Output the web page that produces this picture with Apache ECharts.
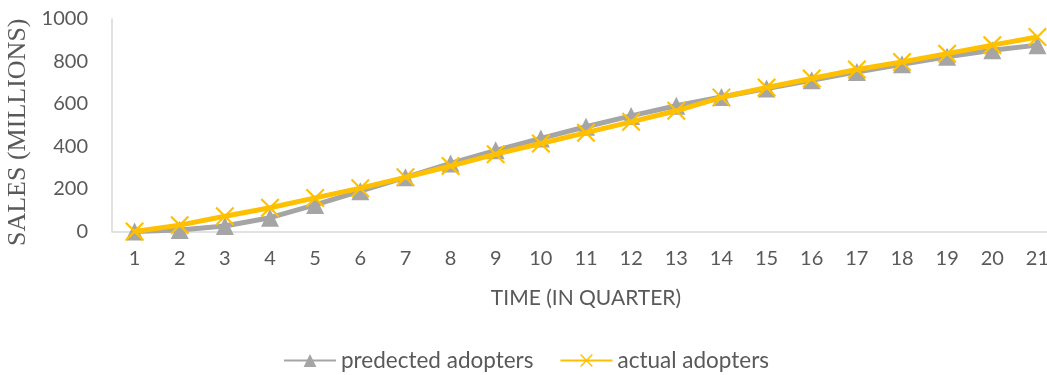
<!DOCTYPE html>
<html>
<head>
<meta charset="utf-8">
<script src="https://cdn.jsdelivr.net/npm/echarts@6/dist/echarts.min.js"></script>
<style>
  html, body { margin: 0; padding: 0; background: #fff; overflow: hidden; }
  /* the plot runs slightly past the right edge of the window */
  #chart { width: 1062px; height: 375px; }
</style>
</head>
<body>
<div id="chart"></div>
<script>
// Quarters on the horizontal axis
const quarters = ['1','2','3','4','5','6','7','8','9','10','11','12','13','14','15','16','17','18','19','20','21'];
// Cumulative adopters, millions
const predectedAdopters = [0, 7, 26, 65, 125, 190, 255, 320, 382, 438, 493, 544, 592, 633, 673, 712, 751, 787, 822, 853, 877];
const actualAdopters    = [0, 30, 72, 112, 158, 204, 255, 308, 364, 414, 465, 516, 568, 631, 678, 720, 762, 798, 837, 877, 915];
const seriesNames = ['predected adopters', 'actual adopters'];

const textColor = '#595959';
const font = 'Lato, "Open Sans", sans-serif';
// filled cross shape for the "x" marker
const crossPath = 'path://M0,0.8 L0.8,0 L5,4.2 L9.2,0 L10,0.8 L5.8,5 L10,9.2 L9.2,10 L5,5.8 L0.8,10 L0,9.2 L4.2,5 Z';

const chart = echarts.init(document.getElementById('chart'), null, { renderer: 'canvas' });
chart.setOption({
  animation: false,
  backgroundColor: '#ffffff',
  grid: { left: 112, top: 19, width: 948, height: 212.5, containLabel: false, outerBoundsMode: 'none' },
  xAxis: {
    type: 'category',
    data: quarters,
    boundaryGap: true,
    name: 'TIME (IN QUARTER)',
    nameLocation: 'middle',
    nameGap: 56,
    nameTextStyle: { color: textColor, fontSize: 21, fontFamily: font },
    axisLine: { show: true, lineStyle: { color: '#d9d9d9', width: 1.5 } },
    axisTick: { show: false },
    axisLabel: { color: textColor, fontSize: 20, fontFamily: font, margin: 17 }
  },
  yAxis: {
    type: 'value',
    min: 0,
    max: 1000,
    interval: 200,
    name: 'SALES (MILLIONS)',
    nameLocation: 'middle',
    nameGap: 77,
    nameTextStyle: { color: textColor, fontSize: 26, fontFamily: '"Liberation Serif", serif', padding: [0, 14, 0, 0] },
    axisLine: { show: true, lineStyle: { color: '#d9d9d9', width: 1.5 } },
    axisTick: { show: false },
    splitLine: { show: false },
    axisLabel: { color: textColor, fontSize: 20, fontFamily: font, margin: 24, formatter: (v) => String(v) }
  },
  legend: {
    bottom: -2,
    left: 278,
    itemWidth: 52,
    itemHeight: 16,
    itemGap: 26,
    textStyle: { color: textColor, fontSize: 22.5, fontFamily: font },
    data: seriesNames
  },
  series: [
    {
      name: seriesNames[0],
      type: 'line',
      data: predectedAdopters,
      symbol: 'triangle',
      symbolSize: 18,
      lineStyle: { color: '#a5a5a5', width: 5 },
      itemStyle: { color: '#a5a5a5' },
      z: 2
    },
    {
      name: seriesNames[1],
      type: 'line',
      data: actualAdopters,
      symbol: crossPath,
      symbolSize: 19,
      lineStyle: { color: '#ffc000', width: 5 },
      itemStyle: { color: '#ffc000' },
      z: 3
    }
  ]
});
</script>
</body>
</html>
